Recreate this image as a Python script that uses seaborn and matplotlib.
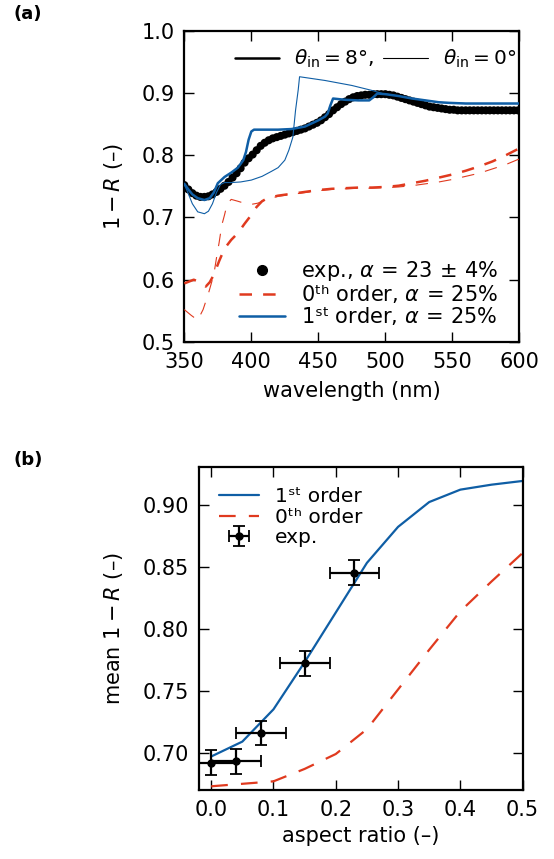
import matplotlib
matplotlib.use("Agg")
import matplotlib.pyplot as plt
from matplotlib.lines import Line2D
import seaborn as sns

# ---------------- panel (a): spectra ----------------
wl_exp = [350, 353, 356, 359, 362, 365, 368, 371, 374, 377, 380, 383, 386, 389,
          392, 395, 398, 401, 404, 407, 410, 413, 416, 419, 422, 425, 428, 431,
          434, 437, 440, 443, 446, 449, 452, 455, 458, 461, 464, 467, 470, 473,
          476, 479, 482, 485, 488, 491, 494, 497, 500, 503, 506, 509, 512, 515,
          518, 521, 524, 527, 530, 533, 536, 539, 542, 545, 548, 551, 554, 557,
          560, 563, 566, 569, 572, 575, 578, 581, 584, 587, 590, 593, 596, 599]
absorb_exp = [0.752, 0.745, 0.739, 0.735, 0.733, 0.733, 0.734, 0.737, 0.741, 0.746,
              0.751, 0.757, 0.764, 0.771, 0.779, 0.788, 0.795, 0.801, 0.808, 0.815,
              0.820, 0.824, 0.827, 0.829, 0.831, 0.833, 0.835, 0.837, 0.839, 0.841,
              0.843, 0.846, 0.849, 0.852, 0.856, 0.861, 0.866, 0.872, 0.877, 0.882,
              0.886, 0.890, 0.893, 0.895, 0.896, 0.897, 0.897, 0.898, 0.898, 0.898,
              0.898, 0.897, 0.896, 0.894, 0.892, 0.890, 0.888, 0.886, 0.884, 0.882,
              0.880, 0.878, 0.877, 0.876, 0.875, 0.874, 0.873, 0.873, 0.872, 0.872,
              0.872, 0.872, 0.872, 0.872, 0.872, 0.872, 0.872, 0.872, 0.872, 0.872,
              0.872, 0.872, 0.872, 0.872]

# first-order model, 8 deg incidence
wl_o1_8 = [350, 353, 356, 360, 365, 369, 372, 375, 380, 385, 390, 394, 396, 398,
           400, 402, 410, 420, 430, 440, 445, 450, 455, 457, 459, 461, 470, 480,
           488, 491, 494, 500, 510, 520, 530, 540, 548, 560, 575, 590, 600]
absorb_o1_8 = [0.754, 0.745, 0.737, 0.731, 0.728, 0.731, 0.740, 0.755, 0.765, 0.772,
               0.780, 0.792, 0.805, 0.825, 0.838, 0.841, 0.841, 0.841, 0.842, 0.846,
               0.851, 0.856, 0.862, 0.867, 0.880, 0.891, 0.889, 0.888, 0.888, 0.893,
               0.899, 0.898, 0.895, 0.891, 0.888, 0.885, 0.884, 0.883, 0.883, 0.883,
               0.883]

# first-order model, normal incidence
wl_o1_0 = [350, 353, 356, 360, 365, 368, 371, 374, 377, 380, 385, 392, 400, 408,
           415, 420, 425, 428, 431, 433, 435, 436, 455, 475, 490, 498, 510, 520,
           530, 540, 548, 560, 575, 590, 600]
absorb_o1_0 = [0.753, 0.738, 0.722, 0.709, 0.706, 0.710, 0.722, 0.740, 0.753, 0.756,
               0.756, 0.757, 0.760, 0.766, 0.774, 0.780, 0.792, 0.808, 0.829, 0.872,
               0.905, 0.926, 0.920, 0.912, 0.904, 0.899, 0.895, 0.891, 0.888, 0.885,
               0.884, 0.883, 0.883, 0.883, 0.883]

# zeroth-order model, 8 deg incidence
wl_o0_8 = [350, 357, 362, 366, 369, 372, 376, 380, 385, 390, 395, 400, 404, 408,
           412, 420, 430, 440, 450, 460, 470, 480, 490, 500, 510, 520, 530, 540,
           550, 560, 570, 580, 590, 600]
absorb_o0_8 = [0.594, 0.600, 0.596, 0.589, 0.596, 0.608, 0.630, 0.650, 0.664, 0.675,
               0.690, 0.704, 0.717, 0.726, 0.731, 0.735, 0.738, 0.741, 0.744, 0.746,
               0.747, 0.748, 0.748, 0.749, 0.751, 0.755, 0.759, 0.764, 0.769, 0.775,
               0.782, 0.790, 0.800, 0.811]

# zeroth-order model, normal incidence
wl_o0_0 = [350, 355, 360, 364, 368, 372, 374, 376, 378, 380, 382, 385, 390, 396,
           400, 405, 410, 420, 430, 440, 450, 460, 470, 480, 490, 500, 510, 520,
           530, 540, 550, 560, 570, 580, 590, 600]
absorb_o0_0 = [0.552, 0.543, 0.535, 0.552, 0.578, 0.608, 0.635, 0.660, 0.688, 0.704,
               0.722, 0.729, 0.726, 0.722, 0.721, 0.723, 0.728, 0.734, 0.737, 0.740,
               0.743, 0.745, 0.746, 0.747, 0.747, 0.748, 0.749, 0.751, 0.754, 0.757,
               0.761, 0.766, 0.771, 0.778, 0.785, 0.794]

wl_ticks = [350, 400, 450, 500, 550, 600]
absorb_ticks = [0.5, 0.6, 0.7, 0.8, 0.9, 1.0]

# ---------------- panel (b): mean absorption vs aspect ratio ----------------
aspect = [0.0, 0.05, 0.10, 0.15, 0.20, 0.25, 0.30, 0.35, 0.40, 0.45, 0.50]
mean_o1 = [0.697, 0.709, 0.735, 0.773, 0.813, 0.853, 0.882, 0.902, 0.912, 0.916, 0.919]
mean_o0 = [0.673, 0.675, 0.677, 0.687, 0.699, 0.719, 0.751, 0.783, 0.814, 0.838, 0.861]
aspect_exp = [0.0, 0.04, 0.08, 0.15, 0.23]
mean_exp = [0.692, 0.693, 0.716, 0.772, 0.845]
aspect_err = [0.04, 0.04, 0.04, 0.04, 0.04]
mean_err = [0.01, 0.01, 0.01, 0.01, 0.01]
aspect_ticks = [0.0, 0.1, 0.2, 0.3, 0.4, 0.5]
mean_ticks = [0.70, 0.75, 0.80, 0.85, 0.90]

BLUE = "#0f5ea5"
RED = "#e03a1f"

sns.set_theme(style="ticks")
plt.rcParams.update({
    "font.family": ["DejaVu Sans"],
    "mathtext.fontset": "dejavusans",
    "font.size": 15,
    "text.color": "black",
    "axes.linewidth": 1.6,
    "axes.edgecolor": "black",
    "axes.labelcolor": "black",
    "xtick.color": "black",
    "ytick.color": "black",
    "xtick.direction": "in",
    "ytick.direction": "in",
    "xtick.top": True,
    "ytick.right": True,
    "xtick.major.size": 7,
    "ytick.major.size": 7,
    "xtick.major.width": 1.0,
    "ytick.major.width": 1.0,
    "xtick.major.pad": 7,
    "ytick.major.pad": 7,
    "xtick.labelsize": 15,
    "ytick.labelsize": 15,
    "axes.labelsize": 15,
    "legend.fontsize": 15,
    "legend.labelcolor": "black",
    "lines.scale_dashes": False,
})

fig = plt.figure(figsize=(5.54, 8.59), dpi=100)
ax1 = fig.add_axes([0.3327, 0.6019, 0.6047, 0.3624])
ax2 = fig.add_axes([0.3587, 0.0803, 0.5847, 0.3757])

dash_a = (0, (9, 8))
dash_b = (0, (12, 9.5))
thick, thin = 1.8, 0.8

# --- (a)
sns.scatterplot(x=wl_exp, y=absorb_exp, ax=ax1, color="black", s=34,
                edgecolor="none", zorder=2)
sns.lineplot(x=wl_o0_0, y=absorb_o0_0, ax=ax1, color=RED, linewidth=thin,
             linestyle=dash_a, zorder=3)
sns.lineplot(x=wl_o0_8, y=absorb_o0_8, ax=ax1, color=RED, linewidth=thick,
             linestyle=dash_a, zorder=3)
sns.lineplot(x=wl_o1_0, y=absorb_o1_0, ax=ax1, color=BLUE, linewidth=thin, zorder=4)
sns.lineplot(x=wl_o1_8, y=absorb_o1_8, ax=ax1, color=BLUE, linewidth=thick, zorder=4)

ax1.set_xlim(350, 600)
ax1.set_ylim(0.5, 1.0)
ax1.set_xticks(wl_ticks)
ax1.set_yticks(absorb_ticks)
ax1.set_xticklabels([str(v) for v in wl_ticks])
ax1.set_yticklabels([f"{v:.1f}" for v in absorb_ticks])
ax1.set_xlabel("wavelength (nm)")
ax1.set_ylabel(r"$1-R$ (–)")
ax1.xaxis.set_label_coords(0.5, -0.125)
ax1.yaxis.set_label_coords(-0.177, 0.5)

angle_handles = [Line2D([], [], color="black", lw=thick),
                 Line2D([], [], color="black", lw=thin)]
leg_angle = ax1.legend(angle_handles,
                       [r"$\theta_{\mathrm{in}}=8°$,", r"$\theta_{\mathrm{in}}=0°$"],
                       loc="upper right", bbox_to_anchor=(0.99, 0.945), ncol=2,
                       frameon=False, columnspacing=0.45, handletextpad=0.75,
                       borderaxespad=0.0, borderpad=0.0, handlelength=2.2,
                       fontsize=14.5)
ax1.add_artist(leg_angle)

model_handles = [Line2D([], [], color="black", marker="o", ls="none", markersize=7),
                 Line2D([], [], color=RED, lw=thick, ls=dash_a),
                 Line2D([], [], color=BLUE, lw=thick)]
ax1.legend(model_handles,
           [r"exp., $\alpha\,=\,23\,\pm\,4\%$",
            r"0ᵗʰ order, $\alpha\,=\,25\%$",
            r"1ˢᵗ order, $\alpha\,=\,25\%$"],
           loc="lower right", bbox_to_anchor=(0.991, -0.0096), frameon=False,
           borderaxespad=0.45, labelspacing=0.0, handlelength=2.2, handletextpad=0.8)

# --- (b)
sns.lineplot(x=aspect, y=mean_o1, ax=ax2, color=BLUE, linewidth=1.6, label="1ˢᵗ order")
sns.lineplot(x=aspect, y=mean_o0, ax=ax2, color=RED, linewidth=1.6, linestyle=dash_b,
             label="0ᵗʰ order")
ax2.errorbar(aspect_exp, mean_exp, xerr=aspect_err, yerr=mean_err, fmt="o",
             color="black", markersize=5, elinewidth=1.6, capsize=4, capthick=1.3,
             label="exp.", zorder=5)

ax2.set_xlim(-0.02, 0.5)
ax2.set_ylim(0.67, 0.93)
ax2.set_xticks(aspect_ticks)
ax2.set_yticks(mean_ticks)
ax2.set_xticklabels([f"{v:.1f}" for v in aspect_ticks])
ax2.set_yticklabels([f"{v:.2f}" for v in mean_ticks])
ax2.set_xlabel("aspect ratio (–)")
ax2.set_ylabel(r"mean $1-R$ (–)")
ax2.xaxis.set_label_coords(0.5, -0.112)
ax2.yaxis.set_label_coords(-0.2275, 0.5)
ax2.legend(loc="upper left", bbox_to_anchor=(0.0154, 0.9845), frameon=False,
           borderaxespad=0.35, labelspacing=0.06, handlelength=2.0,
           handletextpad=0.8, fontsize=14.5)

for ax in (ax1, ax2):
    ax.tick_params(which="both", top=True, right=True, direction="in")

fig.text(14 / 554, 1 - 5 / 859, "(a)", fontsize=13, fontweight="bold", va="top", ha="left")
fig.text(14 / 554, 1 - 451 / 859, "(b)", fontsize=13, fontweight="bold", va="top", ha="left")

fig.savefig("out.png", dpi=100)
